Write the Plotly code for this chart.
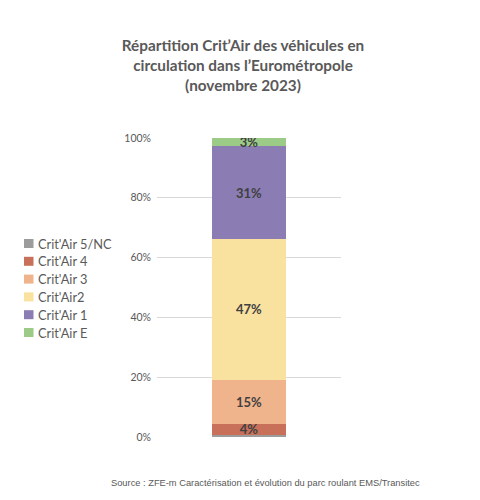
import plotly.graph_objects as go

categories = ["Crit'Air 5/NC", "Crit'Air 4", "Crit'Air 3", "Crit'Air2", "Crit'Air 1", "Crit'Air E"]
shares = [0.008, 0.036, 0.148, 0.471, 0.309, 0.028]
labels = ["", "4%", "15%", "47%", "31%", "3%"]
colors = ["#9c9c9c", "#c8705a", "#f0b48c", "#f9e1a0", "#8b7db4", "#9ccb88"]
x_cat = ["Parc roulant"]
y_ticks = [0, 0.2, 0.4, 0.6, 0.8, 1.0]
y_ticklabels = ["0%", "20%", "40%", "60%", "80%", "100%"]

W, H = 472, 492  # page body has an 8px margin
PX0, PW = 157, 184   # plot area left / width (page px)
PY0, PH = 437, 299   # plot area bottom / height (page px)


def px_x(px):
    return (px - PX0) / PW


def px_y(py):
    return (PY0 - py) / PH


fig = go.Figure()
for name, v, lab, c in zip(categories, shares, labels, colors):
    fig.add_trace(go.Bar(
        x=x_cat, y=[v], name=name, marker=dict(color=c, line=dict(width=0)),
        text=[lab], textposition="inside", insidetextanchor="middle",
        textfont=dict(family="Lato", size=13, color="#404040", weight="bold"),
        width=0.4, hoverinfo="name+y",
    ))

# legend drawn as swatches + text (Excel-style compact legend)
legend_shapes = []
legend_annots = []
for i, (name, c) in enumerate(zip(categories, colors)):
    cy = 243.5 + i * 17.8
    legend_shapes.append(dict(
        type="rect", xref="paper", yref="paper",
        x0=px_x(24), x1=px_x(33.5), y0=px_y(cy + 4.5), y1=px_y(cy - 4.5),
        fillcolor=c, line=dict(width=0), layer="above",
    ))
    legend_annots.append(dict(
        text=name, xref="paper", yref="paper", x=px_x(35.5), y=px_y(cy),
        xanchor="left", yanchor="middle", showarrow=False,
        font=dict(family="Lato", size=12.8, color="#595959"),
    ))

fig.update_layout(
    barmode="stack",
    width=W, height=H,
    paper_bgcolor="white", plot_bgcolor="white",
    margin=dict(l=149, r=139, t=130, b=63, autoexpand=False),
    title=dict(
        text="Répartition Crit’Air des véhicules en<br>circulation dans l’Eurométropole<br>(novembre 2023)",
        x=235 / W, xanchor="center", xref="container",
        y=1 - 43 / H, yanchor="top", yref="container",
        font=dict(family="Lato", size=15.3, color="#595959", weight="bold"),
    ),
    uniformtext=dict(mode="show", minsize=13),
    showlegend=False,
    shapes=legend_shapes,
    annotations=legend_annots + [dict(
        text="Source : ZFE-m Caractérisation et évolution du parc roulant EMS/Transitec",
        xref="paper", yref="paper", x=px_x(265), y=px_y(483),
        xanchor="center", yanchor="middle", showarrow=False,
        font=dict(family="Liberation Sans", size=9.3, color="#595959"),
    )],
)
fig.update_xaxes(range=[-0.5, 0.5], showticklabels=False, showgrid=False,
                 zeroline=False, showline=False, ticks="")
fig.update_yaxes(
    range=[0, 1], tickvals=y_ticks, ticktext=y_ticklabels,
    showgrid=True, gridcolor="#d9d9d9", gridwidth=1, zeroline=False,
    showline=False, ticks="", ticklabelstandoff=5,
    tickfont=dict(family="Lato", size=10.5, color="#595959"),
)

fig.write_html("out.html")
